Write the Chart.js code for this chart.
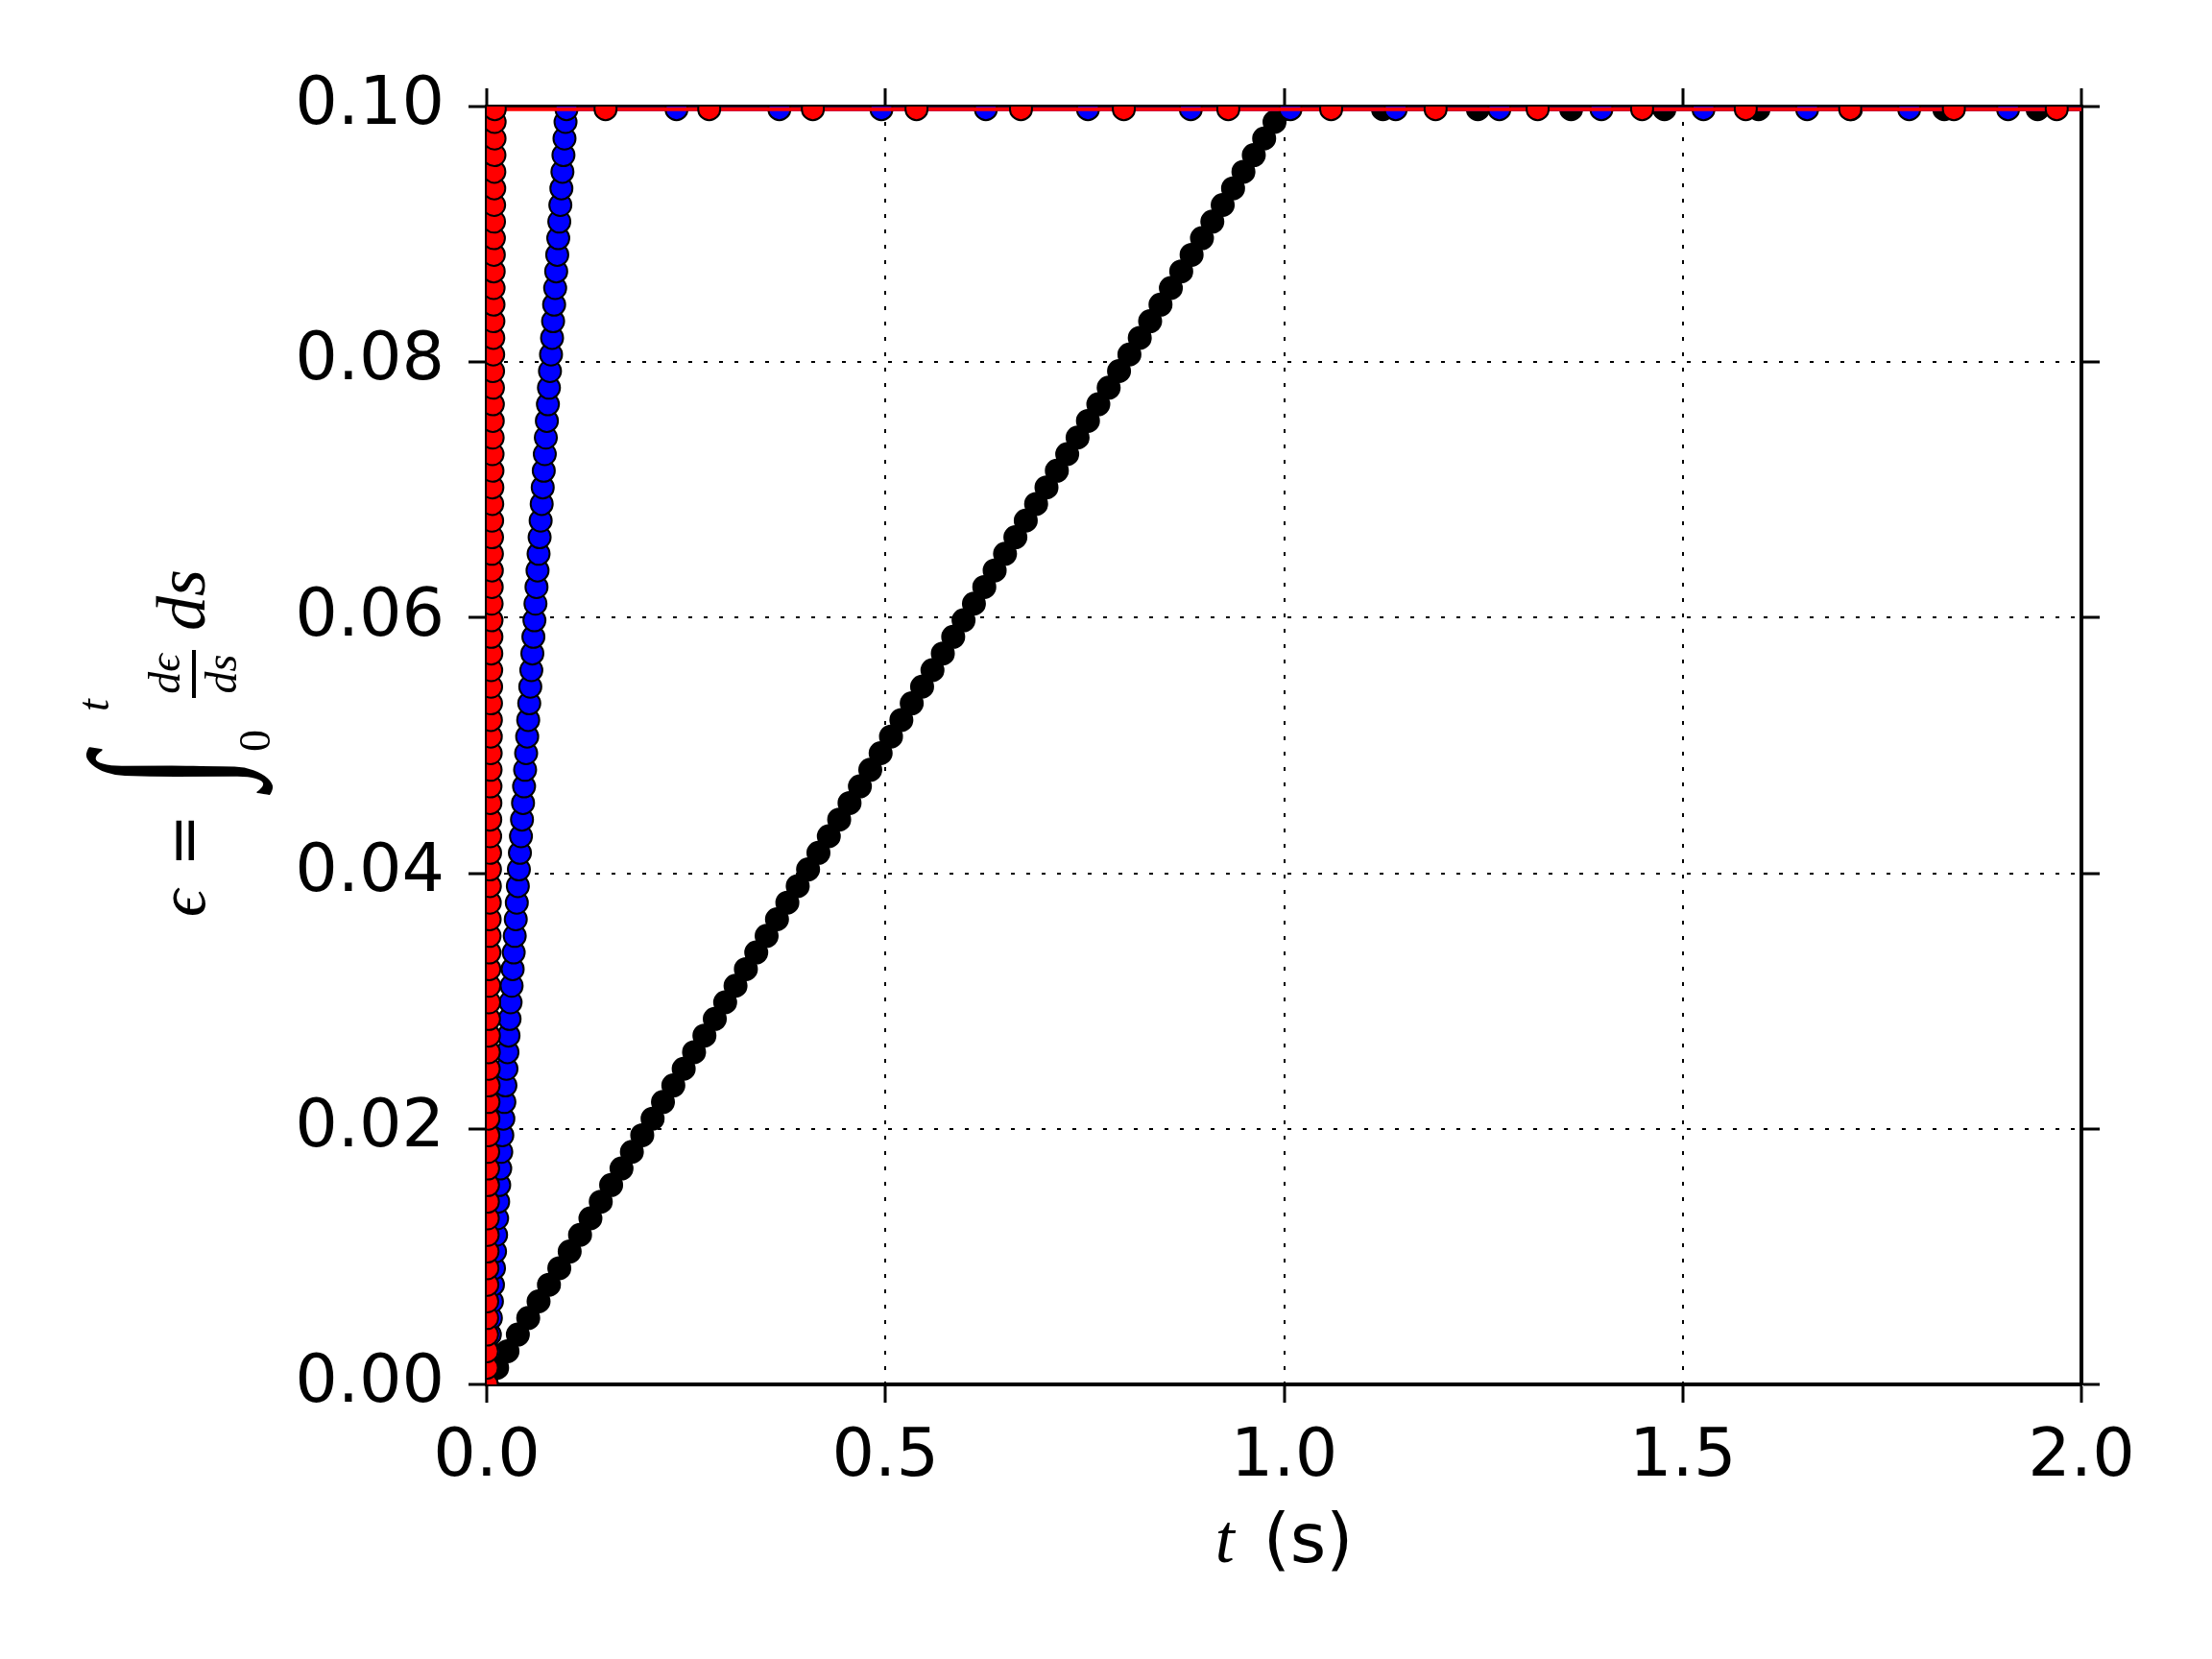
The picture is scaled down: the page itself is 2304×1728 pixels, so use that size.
<!DOCTYPE html>
<html>
<head>
<meta charset="utf-8">
<script src="https://cdn.jsdelivr.net/npm/chart.js@4.4.1/dist/chart.umd.min.js"></script>
<style>
    body { margin: 0; background: #ffffff; }
    canvas { display: block; }
</style>
</head>
<body>
<canvas id="strainChart" width="2304" height="1728"></canvas>
<script>
// strain values during the ramp (shared by the three loading rates), then the plateau
const rampStrain = [0, 0.0013, 0.0026, 0.0039, 0.0052, 0.0065, 0.0078, 0.0091, 0.0104, 0.0117,
    0.013, 0.0143, 0.0156, 0.0169, 0.0182, 0.0195, 0.0208, 0.0221, 0.0234, 0.0247,
    0.026, 0.0273, 0.0286, 0.0299, 0.0312, 0.0325, 0.0338, 0.0351, 0.0364, 0.0377,
    0.039, 0.0403, 0.0416, 0.0429, 0.0442, 0.0455, 0.0468, 0.0481, 0.0494, 0.0507,
    0.052, 0.0533, 0.0546, 0.0559, 0.0572, 0.0585, 0.0598, 0.0611, 0.0624, 0.0637,
    0.065, 0.0663, 0.0676, 0.0689, 0.0702, 0.0715, 0.0728, 0.0741, 0.0754, 0.0767,
    0.078, 0.0793, 0.0806, 0.0819, 0.0832, 0.0845, 0.0858, 0.0871, 0.0884, 0.0897,
    0.091, 0.0923, 0.0936, 0.0949, 0.0962, 0.0975, 0.0988, 0.0998];

// red: fastest rate
const redRampTime = [0, 0.00013, 0.00026, 0.00039, 0.00052, 0.00065, 0.00078, 0.00091, 0.00104, 0.00117,
    0.0013, 0.00143, 0.00156, 0.00169, 0.00182, 0.00195, 0.00208, 0.00221, 0.00234, 0.00247,
    0.0026, 0.00273, 0.00286, 0.00299, 0.00312, 0.00325, 0.00338, 0.00351, 0.00364, 0.00377,
    0.0039, 0.00403, 0.00416, 0.00429, 0.00442, 0.00455, 0.00468, 0.00481, 0.00494, 0.00507,
    0.0052, 0.00533, 0.00546, 0.00559, 0.00572, 0.00585, 0.00598, 0.00611, 0.00624, 0.00637,
    0.0065, 0.00663, 0.00676, 0.00689, 0.00702, 0.00715, 0.00728, 0.00741, 0.00754, 0.00767,
    0.0078, 0.00793, 0.00806, 0.00819, 0.00832, 0.00845, 0.00858, 0.00871, 0.00884, 0.00897,
    0.0091, 0.00923, 0.00936, 0.00949, 0.00962, 0.00975, 0.00988, 0.01];
const redHoldTime = [0.149, 0.279, 0.409, 0.539, 0.67, 0.799, 0.93, 1.059, 1.19, 1.318, 1.449, 1.579, 1.71, 1.84, 1.969, 2.099];
const redHoldStrain = [0.0998, 0.0998, 0.0998, 0.0998, 0.0998, 0.0998, 0.0998, 0.0998, 0.0998, 0.0998, 0.0998, 0.0998, 0.0998, 0.0998, 0.0998, 0.0998];

// blue: middle rate
const blueRampTime = [0, 0.0013, 0.0026, 0.0039, 0.0052, 0.0065, 0.0078, 0.0091, 0.0104, 0.0117,
    0.013, 0.0143, 0.0156, 0.0169, 0.0182, 0.0195, 0.0208, 0.0221, 0.0234, 0.0247,
    0.026, 0.0273, 0.0286, 0.0299, 0.0312, 0.0325, 0.0338, 0.0351, 0.0364, 0.0377,
    0.039, 0.0403, 0.0416, 0.0429, 0.0442, 0.0455, 0.0468, 0.0481, 0.0494, 0.0507,
    0.052, 0.0533, 0.0546, 0.0559, 0.0572, 0.0585, 0.0598, 0.0611, 0.0624, 0.0637,
    0.065, 0.0663, 0.0676, 0.0689, 0.0702, 0.0715, 0.0728, 0.0741, 0.0754, 0.0767,
    0.078, 0.0793, 0.0806, 0.0819, 0.0832, 0.0845, 0.0858, 0.0871, 0.0884, 0.0897,
    0.091, 0.0923, 0.0936, 0.0949, 0.0962, 0.0975, 0.0988, 0.1];
const blueHoldTime = [0.238, 0.367, 0.495, 0.626, 0.754, 0.883, 1.008, 1.14, 1.27, 1.398, 1.526, 1.656, 1.784, 1.908, 2.036];
const blueHoldStrain = [0.0998, 0.0998, 0.0998, 0.0998, 0.0998, 0.0998, 0.0998, 0.0998, 0.0998, 0.0998, 0.0998, 0.0998, 0.0998, 0.0998, 0.0998];

// black: slowest rate
const blackRampTime = [0, 0.013, 0.026, 0.039, 0.052, 0.065, 0.078, 0.091, 0.104, 0.117,
    0.13, 0.143, 0.156, 0.169, 0.182, 0.195, 0.208, 0.221, 0.234, 0.247,
    0.26, 0.273, 0.286, 0.299, 0.312, 0.325, 0.338, 0.351, 0.364, 0.377,
    0.39, 0.403, 0.416, 0.429, 0.442, 0.455, 0.468, 0.481, 0.494, 0.507,
    0.52, 0.533, 0.546, 0.559, 0.572, 0.585, 0.598, 0.611, 0.624, 0.637,
    0.65, 0.663, 0.676, 0.689, 0.702, 0.715, 0.728, 0.741, 0.754, 0.767,
    0.78, 0.793, 0.806, 0.819, 0.832, 0.845, 0.858, 0.871, 0.884, 0.897,
    0.91, 0.923, 0.936, 0.949, 0.962, 0.975, 0.988, 1.0];
const blackHoldTime = [1.124, 1.243, 1.36, 1.477, 1.595, 1.711, 1.828, 1.945, 2.062];
const blackHoldStrain = [0.0998, 0.0998, 0.0998, 0.0998, 0.0998, 0.0998, 0.0998, 0.0998, 0.0998];

const xTicks = [0, 0.5, 1.0, 1.5, 2.0];
const yTicks = [0, 0.02, 0.04, 0.06, 0.08, 0.1];

function toPoints(times, strains) {
    return times.map((t, i) => ({ x: t, y: strains[i] }));
}

function series(times, strains, color) {
    return {
        data: toPoints(times, strains),
        showLine: true,
        borderColor: color,
        borderWidth: 4,
        backgroundColor: color,
        pointBackgroundColor: color,
        pointBorderColor: '#000000',
        pointBorderWidth: 2,
        pointRadius: 11.5,
        pointHoverRadius: 11.5,
        tension: 0,
        clip: 0
    };
}

const tickFont = { family: '"DejaVu Sans"', size: 70 };

function axis(position, extra) {
    const horizontal = position === 'top' || position === 'bottom';
    const tickValues = horizontal ? xTicks : yTicks;
    return Object.assign({
        type: 'linear',
        position: position,
        min: tickValues[0],
        max: tickValues[tickValues.length - 1],
        z: 1,
        afterBuildTicks: s => { s.ticks = tickValues.map(v => ({ value: v })); },
        ticks: {
            font: tickFont,
            color: '#000000',
            padding: horizontal ? 16 : 25,
            maxRotation: 0,
            autoSkip: false,
            callback: v => horizontal ? v.toFixed(1) : v.toFixed(2)
        },
        grid: {
            color: '#000000',
            lineWidth: 2,
            drawOnChartArea: position === 'bottom' || position === 'left',
            tickLength: 19,
            tickWidth: 3,
            tickColor: '#000000',
            tickBorderDash: []
        },
        border: { color: '#000000', width: 4, dash: [4, 12] }
    }, extra);
}

// math-style axis titles drawn on the canvas
const titlePlugin = {
    id: 'mathTitles',
    afterDraw(chart) {
        const ctx = chart.ctx;
        const area = chart.chartArea;
        const serifItalic = size => 'italic ' + size + 'px "Liberation Serif", "DejaVu Serif", serif';
        const serif = size => size + 'px "Liberation Serif", "DejaVu Serif", serif';
        const sans = size => size + 'px "DejaVu Sans"';

        ctx.save();
        ctx.fillStyle = '#000000';
        ctx.textBaseline = 'alphabetic';

        // x title: t (s)
        ctx.font = serifItalic(72);
        const tW = ctx.measureText('t ').width;
        ctx.font = sans(72);
        const sW = ctx.measureText('(s)').width;
        const cx = (area.left + area.right) / 2;
        let x = cx - (tW + sW) / 2 - 6;
        ctx.textAlign = 'left';
        ctx.font = serifItalic(72);
        ctx.fillText('t', x, 1627);
        ctx.font = sans(72);
        ctx.fillText('(s)', x + tW + 12, 1627);

        // y title: eps = int_0^t (d eps / ds) ds, rotated
        ctx.translate(213, 955);
        ctx.rotate(-Math.PI / 2);
        ctx.font = serifItalic(70);
        ctx.fillText('ϵ', 0, 0);
        ctx.font = sans(66);
        ctx.fillText('=', 52, 0);
        ctx.save();
        ctx.translate(134, 18);
        ctx.scale(1.1, 1.65);
        ctx.font = serifItalic(120);
        ctx.fillText('∫', 0, 0);
        ctx.restore();
        ctx.font = serifItalic(46);
        ctx.fillText('t', 214, -100);
        ctx.font = serif(46);
        ctx.fillText('0', 172, 68);
        ctx.textAlign = 'center';
        ctx.font = serifItalic(46);
        ctx.fillText('dϵ', 253, -26);
        ctx.fillText('ds', 253, 33);
        ctx.fillRect(228, -13, 50, 4);
        ctx.textAlign = 'left';
        ctx.font = serifItalic(72);
        ctx.fillText('ds', 298, 0);
        ctx.restore();
    }
};

new Chart(document.getElementById('strainChart'), {
    type: 'scatter',
    data: {
        datasets: [
            series(redRampTime.concat(redHoldTime), rampStrain.concat(redHoldStrain), '#ff0000'),
            series(blueRampTime.concat(blueHoldTime), rampStrain.concat(blueHoldStrain), '#0000ff'),
            series(blackRampTime.concat(blackHoldTime), rampStrain.concat(blackHoldStrain), '#000000')
        ]
    },
    options: {
        responsive: false,
        devicePixelRatio: 1,
        animation: false,
        layout: { padding: 0 },
        plugins: { legend: { display: false }, tooltip: { enabled: false } },
        scales: {
            x: axis('bottom', { afterFit: s => { s.height = 286; } }),
            x2: axis('top', { ticks: { display: false }, afterFit: s => { s.height = 111; } }),
            y: axis('left', { afterFit: s => { s.width = 507; } }),
            y2: axis('right', { ticks: { display: false }, afterFit: s => { s.width = 136; } })
        }
    },
    plugins: [titlePlugin]
});
</script>
</body>
</html>
